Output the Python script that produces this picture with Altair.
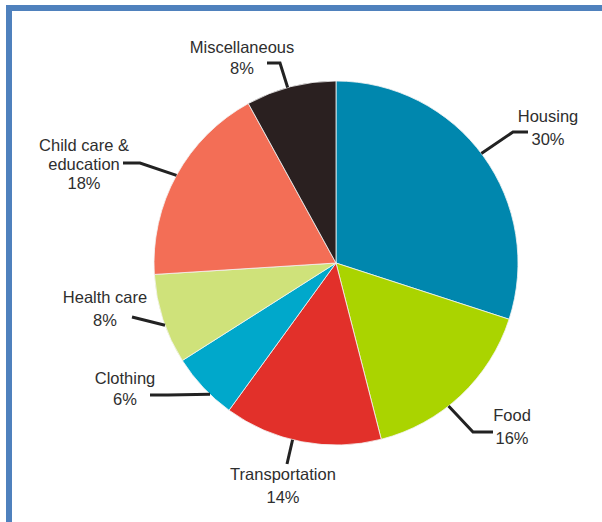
import math
import altair as alt
import pandas as pd

# ---- data ----
categories = ["Housing", "Food", "Transportation", "Clothing", "Health care",
              "Child care & education", "Miscellaneous"]
shares = [30, 16, 14, 6, 8, 18, 8]
colors = ["#0087AE", "#AAD400", "#E2302A", "#00A8CB", "#CFE27A", "#F36E56", "#2A2020"]
label_lines = [["Housing"], ["Food"], ["Transportation"], ["Clothing"], ["Health care"],
               ["Child care &", "education"], ["Miscellaneous"]]

# ---- layout (pixels) ----
W, H = 602, 522
CX, CY, R = 336, 263, 182
label_xy = [(548, 117), (512, 416), (283, 475), (125, 379), (105, 298), (84, 146), (242, 48)]
line_gap = [23, 23, 23, 21, 23, 19, 21]
anchor_offset = [-1, 5, 3, -3, -2, 0, -1]          # degrees from slice mid-angle
leader_tail = [
    [(513, 132), (528, 132)],
    [(473, 432), (493, 432)],
    [(287, 464)],
    [(168, 395), (150, 395)],
    [(132, 317)],
    [(140, 163), (123, 163)],
    [(280, 63), (267, 63)],
]
FONT = "Liberation Sans, Arial, sans-serif"

pie_df = pd.DataFrame({"category": categories, "share": shares,
                       "idx": list(range(len(categories)))})

# text rows
text_rows = []
for i, cat in enumerate(categories):
    x0, y0 = label_xy[i]
    lines = label_lines[i] + [f"{shares[i]}%"]
    for j, t in enumerate(lines):
        text_rows.append({"x": x0, "y": y0 + j * line_gap[i], "text": t})
text_df = pd.DataFrame(text_rows)

# leader lines: start on the circle at the slice angle, then layout tail
total = sum(shares)
cum = 0
line_rows = []
for i, cat in enumerate(categories):
    mid = (cum + shares[i] / 2) / total * 360 + anchor_offset[i]
    cum += shares[i]
    a = math.radians(mid)
    pts = [(CX + R * math.sin(a), CY - R * math.cos(a))] + leader_tail[i]
    for k, (px, py) in enumerate(pts):
        line_rows.append({"cat": cat, "k": k, "x": px, "y": py})
line_df = pd.DataFrame(line_rows)

xs = alt.Scale(domain=[0, W], nice=False, zero=False)
ys = alt.Scale(domain=[0, H], nice=False, zero=False, reverse=True)

pie = alt.Chart(pie_df).mark_arc(radius=R, stroke="#f4f4f4", strokeWidth=0.8).encode(
    theta=alt.Theta("share:Q", stack=True),
    order=alt.Order("idx:Q"),
    color=alt.Color("category:N", scale=alt.Scale(domain=categories, range=colors), legend=None),
    x=alt.value(CX),
    y=alt.value(CY),
)

leaders = alt.Chart(line_df).mark_line(color="#222222", strokeWidth=3, strokeCap="butt",
                                       strokeJoin="miter").encode(
    x=alt.X("x:Q", scale=xs, axis=None),
    y=alt.Y("y:Q", scale=ys, axis=None),
    detail="cat:N",
    order="k:Q",
)

labels = alt.Chart(text_df).mark_text(font=FONT, fontSize=16.5, color="#2e2e2e",
                                      align="center", baseline="middle").encode(
    x=alt.X("x:Q", scale=xs, axis=None),
    y=alt.Y("y:Q", scale=ys, axis=None),
    text="text:N",
)

border_top = alt.Chart(pie_df).mark_rule(color="#4F81BD", strokeWidth=6).encode(
    x=alt.value(6), x2=alt.value(W), y=alt.value(8))
border_left = alt.Chart(pie_df).mark_rule(color="#4F81BD", strokeWidth=6).encode(
    x=alt.value(9), y=alt.value(5), y2=alt.value(H))

chart = alt.layer(pie, leaders, labels, border_top, border_left).properties(
    width=W, height=H, padding=0, autosize="none", background="white"
).configure_view(stroke=None)

chart.save("out.html", embed_options={"renderer": "svg", "actions": False})
